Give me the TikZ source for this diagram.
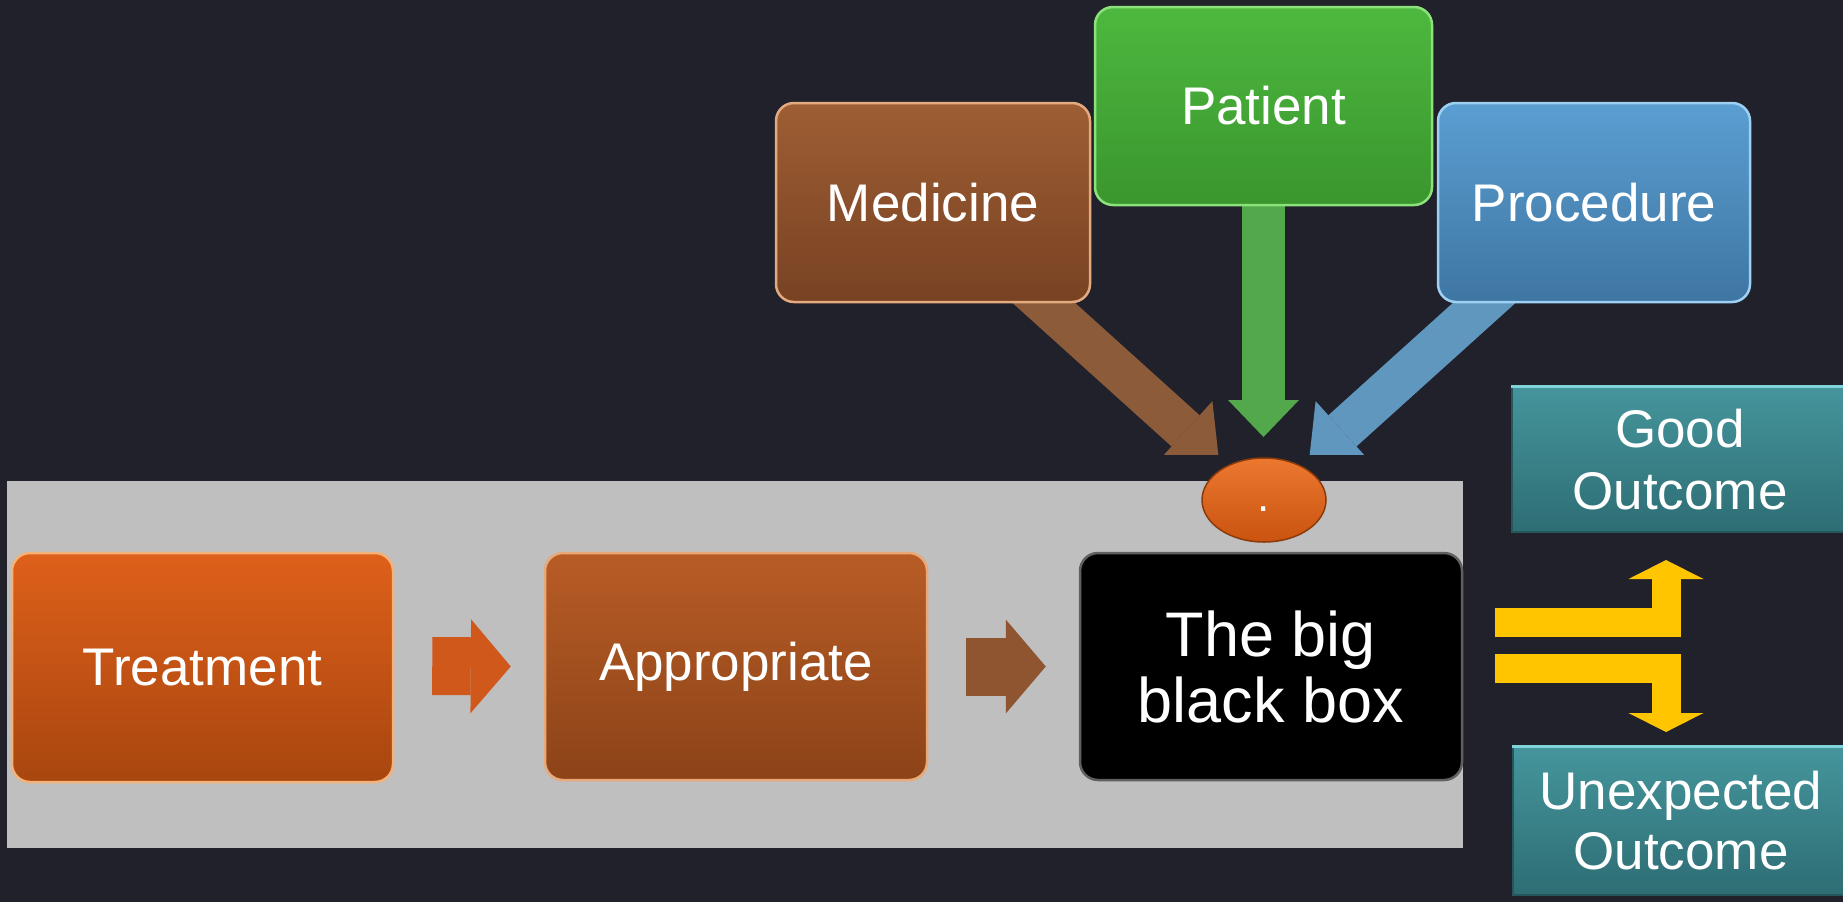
\documentclass[tikz,border=0pt]{standalone}
\usepackage{fontspec}
\setmainfont{Liberation Sans}
\usetikzlibrary{arrows.meta,shapes.geometric,calc}
\definecolor{bgc}{HTML}{21212B}
\definecolor{panelc}{HTML}{BFBFBF}
\definecolor{treatT}{HTML}{DE601A}
\definecolor{treatB}{HTML}{A8460F}
\definecolor{treatR}{HTML}{F3B27A}
\definecolor{apprT}{HTML}{B85C26}
\definecolor{apprB}{HTML}{8C4318}
\definecolor{apprR}{HTML}{E9A877}
\definecolor{medT}{HTML}{9E5E33}
\definecolor{medB}{HTML}{784223}
\definecolor{medR}{HTML}{E3AA80}
\definecolor{patT}{HTML}{4DB83E}
\definecolor{patB}{HTML}{3A962E}
\definecolor{patR}{HTML}{8BE27A}
\definecolor{procT}{HTML}{5B9ED2}
\definecolor{procB}{HTML}{3E76A2}
\definecolor{procR}{HTML}{9DD0F2}
\definecolor{tealT}{HTML}{45959C}
\definecolor{tealB}{HTML}{2E6D74}
\definecolor{tealR}{HTML}{7ED2DA}
\definecolor{arrBrown}{HTML}{8C5C3A}
\definecolor{arrGreen}{HTML}{52A84A}
\definecolor{arrBlue}{HTML}{6097BF}
\definecolor{arrOrange}{HTML}{D0581A}
\definecolor{arrBrown2}{HTML}{8E5530}
\definecolor{yel}{HTML}{FFC600}
\definecolor{ellT}{HTML}{EC7830}
\definecolor{ellB}{HTML}{C9530F}
\pgfdeclarelayer{bglayer}
\pgfdeclarelayer{arrlayer}
\pgfsetlayers{bglayer,arrlayer,main}
\tikzset{
  txt/.style={text=white, align=center, inner sep=0pt, font=\fontsize{53}{62}\selectfont},
  gbox/.style={txt, rectangle, rounded corners=18pt, line width=2.5pt},
  tealbox/.style={txt, rectangle, line width=2pt, top color=tealT, bottom color=tealB, draw=tealB!80!black},
  fat/.style={line width=42pt, -{Triangle[width=80pt,length=45pt,line width=0pt]}},
  smallarr/.style={line width=58pt, -{Triangle[width=94pt,length=40pt,line width=0pt]}},
  yarr/.style={yel, line width=29pt, line join=miter, -{Triangle[width=75pt,length=19pt,line width=0pt]}}
}
\begin{document}
\begin{tikzpicture}[x=1pt,y=-1pt]
\useasboundingbox (0,0) rectangle (1843,902);

% boxes of the main row
\node[gbox, top color=treatT, bottom color=treatB, draw=treatR, minimum width=381pt, minimum height=229pt] (treat) at (202.5,667.5) {Treatment};
\node[gbox, top color=apprT, bottom color=apprB, draw=apprR, minimum width=382pt, minimum height=227pt] (appr) at (736,666.5) {Appropriate};
\node[gbox, fill=black, draw=gray!75!black, minimum width=382pt, minimum height=227pt, font=\fontsize{63}{66}\selectfont] (bbox) at (1271,666.5) {The big\\black box};

% ellipse
\node[ellipse, top color=ellT, bottom color=ellB, draw=ellB!70!black, line width=1.5pt, minimum width=124pt, minimum height=84pt, inner sep=0pt, text=white, font=\fontsize{44}{44}\selectfont, text height=22pt, text depth=0pt] (dot) at (1264,500) {.};

% top boxes
\node[gbox, top color=medT, bottom color=medB, draw=medR, minimum width=314pt, minimum height=199pt] (med) at (933,202.5) {Medicine};
\node[gbox, top color=patT, bottom color=patB, draw=patR, minimum width=337pt, minimum height=198pt] (pat) at (1263.5,106) {Patient};
\node[gbox, top color=procT, bottom color=procB, draw=procR, minimum width=312pt, minimum height=199pt] (proc) at (1594,202.5) {Procedure};

% outcome boxes
\node[tealbox, minimum width=336pt, minimum height=145pt] (good) at (1680,459.5) {Good\\Outcome};
\node[tealbox, minimum width=336pt, minimum height=148pt, font=\fontsize{53}{60}\selectfont] (unexp) at (1681,821) {Unexpected\\Outcome};
\draw[tealR, line width=3pt] (good.north west) -- (good.north east);
\draw[tealR, line width=3pt] (unexp.north west) -- (unexp.north east);

% named free ends
\coordinate (medtip) at (1219,461);
\coordinate (proctip) at (1309,461);
\coordinate (pattip) at (1263.5,437);
\coordinate (yustart) at (1495,622.5);
\coordinate (yutip) at (1666,560);
\coordinate (ydstart) at (1495,668);
\coordinate (ydtip) at (1666,732);

\begin{pgfonlayer}{bglayer}
  \fill[bgc] (0,0) rectangle (1843,902);
  \fill[panelc] (7,481) rectangle (1463,848);
\end{pgfonlayer}

\begin{pgfonlayer}{arrlayer}
  \begin{scope}
    \clip (0,0) rectangle (1843,454);
    \draw[fat, arrBrown] ($(med.south)+(89,-20)$) -- (medtip);
    \draw[fat, arrBlue] ($(proc.south)+(-88,-20)$) -- (proctip);
    \draw[arrGreen, line width=43pt, -{Triangle[width=71pt,length=37pt,line width=0pt]}] ($(pat.south)+(0,-20)$) -- (pattip);
  \end{scope}
  \draw[smallarr, arrOrange] ($(treat.east)+(38,-1.5)$) -- ($(appr.west)+(-33,0)$);
  \draw[smallarr, arrBrown2] ($(appr.east)+(38,0)$) -- ($(bbox.west)+(-33,0)$);
  \draw[yarr] (yustart) -| (yutip);
  \draw[yarr] (ydstart) -| (ydtip);
\end{pgfonlayer}
\end{tikzpicture}
\end{document}
